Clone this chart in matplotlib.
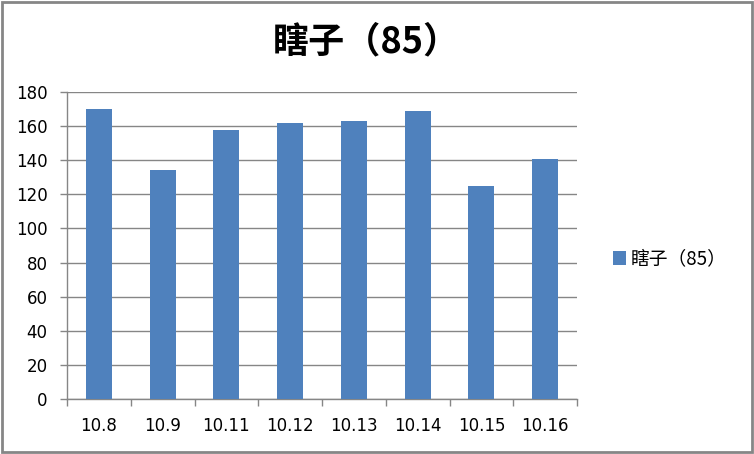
import matplotlib.pyplot as plt
import numpy as np
from matplotlib.patches import Rectangle

plt.rcParams['font.family'] = ['Noto Sans CJK SC', 'DejaVu Sans']

# data
dates = ["10.8", "10.9", "10.11", "10.12", "10.13", "10.14", "10.15", "10.16"]
counts = [170, 134, 158, 162, 163, 169, 125, 141]
series_name = "瞎子（85）"
y_ticks = np.arange(0, 181, 20)

bar_color = "#4F81BD"
line_gray = "#868686"

fig = plt.figure(figsize=(7.54, 4.54), dpi=100)
ax = fig.add_axes([67 / 754, 1 - 399 / 454, 510 / 754, 307 / 454])

x = np.arange(len(dates))
ax.bar(x, counts, width=0.41, color=bar_color, zorder=3, label=series_name)

ax.set_xlim(-0.5, len(dates) - 0.5)
ax.set_ylim(0, 180)
ax.set_yticks(y_ticks)
ax.set_yticklabels([str(v) for v in y_ticks], fontsize=12, family="DejaVu Sans")
ax.set_xticks(x)
ax.set_xticklabels(dates, fontsize=12, family="DejaVu Sans")
ax.set_xticks(np.arange(-0.5, len(dates)), minor=True)
ax.tick_params(axis="x", which="major", length=0, pad=13)
ax.tick_params(axis="x", which="minor", length=5, color=line_gray, width=1)
ax.tick_params(axis="y", length=5, color=line_gray, width=1, pad=9)

ax.yaxis.grid(True, color=line_gray, linewidth=1, zorder=0)
for side in ["top", "right"]:
    ax.spines[side].set_visible(False)
for side in ["left", "bottom"]:
    ax.spines[side].set_color(line_gray)
    ax.spines[side].set_linewidth(1)

fig.text(366 / 754, 1 - 42 / 454, series_name, ha="center", va="center",
         fontsize=26, fontweight="bold")

leg = fig.legend(loc="center left", bbox_to_anchor=(596 / 754, 1 - 259 / 454),
                 frameon=False, fontsize=13.5, handlelength=0.7, handleheight=0.7,
                 handletextpad=0.25)

# chart border
fig.patches.append(Rectangle((2 / 754, 2 / 454), 750 / 754, 450 / 454,
                             transform=fig.transFigure, fill=False,
                             edgecolor=line_gray, linewidth=2))

fig.savefig("out.png", dpi=100, facecolor="white")
